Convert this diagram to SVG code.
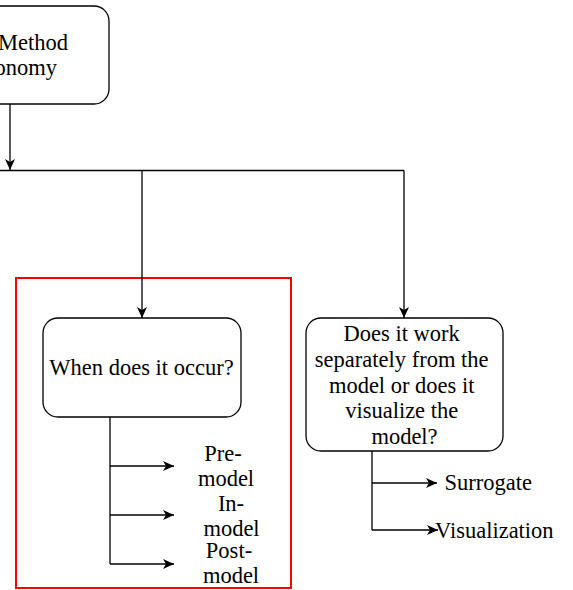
<svg xmlns="http://www.w3.org/2000/svg" width="573" height="590" viewBox="0 0 573 590">
  <style>
    .box { fill: #ffffff; stroke: #000000; stroke-width: 1.3; }
    .wire { fill: none; stroke: #000000; stroke-width: 1.3; }
    .lbl { font-family: "Liberation Serif", "Times New Roman", serif; font-size: 22.5px; fill: #000000; }
    .frame { fill: none; stroke: #ff0000; stroke-width: 2; }
  </style>
  <defs>
    <marker id="arrow" markerUnits="userSpaceOnUse" markerWidth="11" markerHeight="10" viewBox="0 0 11 10" refX="11" refY="5" orient="auto">
      <path d="M0,0 L11,5 L0,10 L3,5 Z" fill="#000000"/>
    </marker>
  </defs>

  <rect width="573" height="590" fill="#ffffff"/>

  <!-- highlight frame around the timing branch -->
  <rect class="frame" x="16" y="278" width="275" height="310"/>

  <g id="connectors">
    <!-- root to bus -->
    <path class="wire" d="M10,104 L10,170" marker-end="url(#arrow)"/>
    <path class="wire" d="M0,170.5 L404,170.5"/>
    <path class="wire" d="M142,170.5 L142,318" marker-end="url(#arrow)"/>
    <path class="wire" d="M404,170.5 L404,318" marker-end="url(#arrow)"/>
    <!-- timing branch -->
    <path class="wire" d="M110,417 L110,564"/>
    <path class="wire" d="M110,466 L174,466" marker-end="url(#arrow)"/>
    <path class="wire" d="M110,515 L174,515" marker-end="url(#arrow)"/>
    <path class="wire" d="M110,564 L174,564" marker-end="url(#arrow)"/>
    <!-- mechanism branch -->
    <path class="wire" d="M372,451 L372,530"/>
    <path class="wire" d="M372,483 L437,483" marker-end="url(#arrow)"/>
    <path class="wire" d="M372,530 L438,530" marker-end="url(#arrow)"/>
  </g>

  <g id="root">
    <rect class="box" x="-90" y="6" width="199" height="98" rx="15" ry="15"/>
    <text class="lbl" x="68" y="50" text-anchor="end">Method</text>
    <text class="lbl" x="57" y="75" text-anchor="end">onomy</text>
  </g>

  <g id="when">
    <rect class="box" x="43" y="318" width="198" height="99" rx="15" ry="15"/>
    <text class="lbl" x="141.5" y="375" text-anchor="middle">When does it occur?</text>
  </g>

  <g id="pre-model">
    <text class="lbl" text-anchor="middle"><tspan x="223" y="461">Pre-</tspan><tspan x="226" y="486">model</tspan></text>
  </g>
  <g id="in-model">
    <text class="lbl" text-anchor="middle"><tspan x="231" y="511">In-</tspan><tspan x="231.5" y="536">model</tspan></text>
  </g>
  <g id="post-model">
    <text class="lbl" text-anchor="middle"><tspan x="229" y="558">Post-</tspan><tspan x="231" y="583">model</tspan></text>
  </g>

  <g id="how">
    <rect class="box" x="306" y="318" width="197" height="133" rx="15" ry="15"/>
    <text class="lbl" text-anchor="middle">
      <tspan x="404.5" y="341">Does it work</tspan>
      <tspan x="404.5" y="367">separately from the</tspan>
      <tspan x="404.5" y="392.5">model or does it</tspan>
      <tspan x="404.5" y="418">visualize the</tspan>
      <tspan x="404.5" y="443.5">model?</tspan>
    </text>
  </g>

  <g id="surrogate">
    <text class="lbl" x="444.5" y="490">Surrogate</text>
  </g>
  <g id="visualization">
    <text class="lbl" x="435" y="538">Visualization</text>
  </g>
</svg>
